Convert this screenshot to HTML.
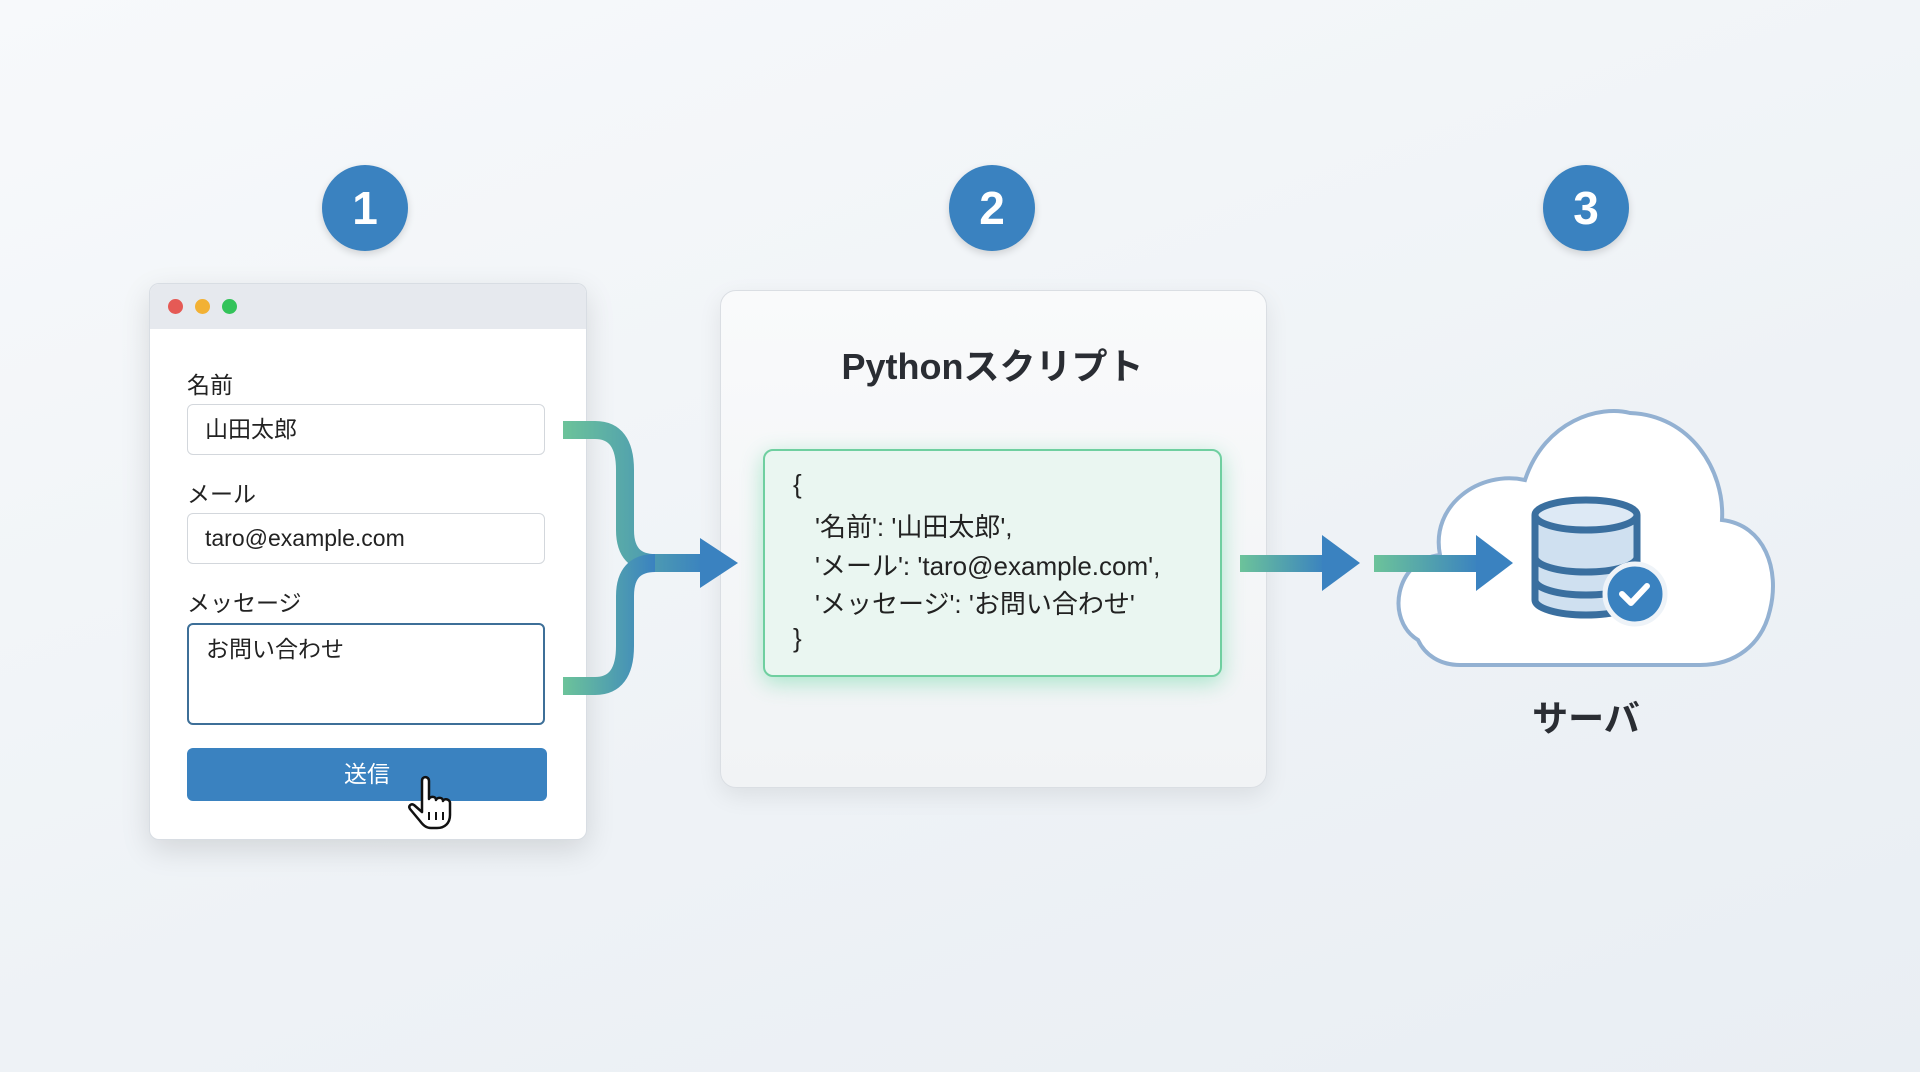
<!DOCTYPE html>
<html><head><meta charset="utf-8"><style>
html,body{margin:0;padding:0}
body{width:1920px;height:1072px;overflow:hidden;background:linear-gradient(160deg,#f7f9fb 0%,#eef2f6 60%,#e9eef3 100%);font-family:"Liberation Sans","Noto Sans CJK JP",sans-serif;position:relative;color:#222}
.abs{position:absolute}
.circ{position:absolute;width:86px;height:86px;border-radius:50%;background:#3a82c0;color:#fff;font-size:46px;font-weight:bold;text-align:center;line-height:86px;box-shadow:0 3px 8px rgba(0,0,0,.15)}
.win{left:149px;top:283px;width:436px;height:555px;background:#fff;border:1px solid #d8dde3;border-radius:10px;box-shadow:0 10px 30px rgba(0,0,0,.12);overflow:hidden}
.bar{height:45px;background:#e6e9ee}
.dot{position:absolute;top:15px;width:15px;height:15px;border-radius:50%}
.lbl{position:absolute;left:37px;font-size:23px;color:#222}
.inp{position:absolute;left:37px;width:358px;border:1.5px solid #d3d7dc;border-radius:6px;font-size:23px;padding-left:17px;box-sizing:border-box;color:#222}
.panel{left:720px;top:290px;width:545px;height:496px;background:linear-gradient(#f9fafb,#f1f3f5);border:1.5px solid #dadee3;border-radius:16px;box-shadow:0 8px 24px rgba(0,0,0,.08)}
.code{left:763px;top:449px;width:459px;height:228px;box-sizing:border-box;background:#eaf6f1;border:2.5px solid #6fcfa0;border-radius:10px;box-shadow:0 6px 22px rgba(80,210,150,.45);font-size:26px;color:#222}
.code div{position:absolute;white-space:nowrap}
</style></head><body>
<div class="circ" style="left:322px;top:165px">1</div>
<div class="circ" style="left:949px;top:165px">2</div>
<div class="circ" style="left:1543px;top:165px">3</div>

<div class="abs win">
 <div class="bar"></div>
 <div class="dot" style="left:18px;background:#e55a55"></div>
 <div class="dot" style="left:45px;background:#f2b134"></div>
 <div class="dot" style="left:72px;background:#33c35a"></div>
 <div class="lbl" style="top:82px">名前</div>
 <div class="inp" style="top:120px;height:51px;line-height:48px">山田太郎</div>
 <div class="lbl" style="top:191px">メール</div>
 <div class="inp" style="top:229px;height:51px;line-height:48px">taro@example.com</div>
 <div class="lbl" style="top:300px">メッセージ</div>
 <div class="inp" style="top:339px;height:102px;line-height:48px;border:2px solid #3d6f98;padding-top:0">お問い合わせ</div>
 <div class="abs" style="left:37px;top:464px;width:360px;height:53px;background:#3a82c0;border-radius:6px;color:#fff;font-size:23px;text-align:center;line-height:53px">送信</div>
</div>
<svg class="abs" style="left:405px;top:772px" width="60" height="60" viewBox="0 0 60 60"><path d="M18 6c3-2 6 0 6 3v18c1-3 7-3 7 1 1-3 7-3 7 1 1-3 7-2 7 2v12c0 8-5 13-13 13h-6c-5 0-8-3-11-7L5 37c-2-3 1-6 4-4l8 7V9c0-2 1-3 1-3z" fill="#fff" stroke="#111" stroke-width="2.5" stroke-linejoin="round"/><path d="M31 40v8M38 40v8M24 40v8" stroke="#111" stroke-width="2"/></svg>

<div class="abs panel"></div>
<div class="abs" style="left:720px;top:338px;width:545px;text-align:center;font-size:36px;font-weight:bold;color:#2a2d33">Pythonスクリプト</div>
<div class="abs code">
 <div style="left:28px;top:18px">{</div>
 <div style="left:50px;top:56px">'名前': '山田太郎',</div>
 <div style="left:50px;top:95px">'メール': 'taro@example.com',</div>
 <div style="left:50px;top:133px">'メッセージ': 'お問い合わせ'</div>
 <div style="left:28px;top:172px">}</div>
</div>

<svg class="abs" style="left:0;top:0" width="1920" height="1072">
 <defs>
  <linearGradient id="g1" x1="0" x2="1"><stop offset="0" stop-color="#6cc39a"/><stop offset="1" stop-color="#3a82c0"/></linearGradient>
 </defs>
 <path d="M563 430 H595 Q625 430 625 470 V530 Q625 563 655 563 H705" fill="none" stroke="url(#g1)" stroke-width="18"/>
 <path d="M563 686 H595 Q625 686 625 646 V596 Q625 563 655 563" fill="none" stroke="url(#g1)" stroke-width="18"/>
 <polygon points="700,538 738,563 700,588" fill="#3a82c0"/>
 <rect x="1240" y="555" width="85" height="17" fill="url(#g1)"/>
 <polygon points="1322,535 1360,563 1322,591" fill="#3a82c0"/>
 <path d="M1418 640 C1385 620 1395 560 1440 555 C1430 505 1480 470 1525 480 C1545 420 1600 405 1630 413 C1690 415 1725 470 1722 520 C1765 525 1780 570 1770 610 C1762 645 1735 665 1700 665 H1460 C1440 665 1425 655 1418 640 Z" fill="#fff" stroke="#93b1d2" stroke-width="4"/>
 <rect x="1374" y="555" width="105" height="17" fill="url(#g1)"/>
 <polygon points="1476,535 1513,563 1476,591" fill="#3a82c0"/>
 <g stroke="#3a6f9f" stroke-width="7" fill="#cfe0f0">
  <path d="M1535 515 V600 A51 15 0 0 0 1637 600 V515"/>
  <ellipse cx="1586" cy="515" rx="51" ry="15" fill="#dde9f5"/>
  <path d="M1535 557 A51 15 0 0 0 1637 557" fill="none"/>
  <path d="M1535 580 A51 15 0 0 0 1637 580" fill="none"/>
 </g>
 <circle cx="1635" cy="594" r="30" fill="#3a82c0" stroke="#eef3f8" stroke-width="5"/>
 <path d="M1622 594 l9 9 l16 -17" fill="none" stroke="#fff" stroke-width="6" stroke-linecap="round" stroke-linejoin="round"/>
</svg>
<div class="abs" style="left:1486px;top:690px;width:200px;text-align:center;font-size:36px;font-weight:bold;color:#2a2d33">サーバ</div>
</body></html>
